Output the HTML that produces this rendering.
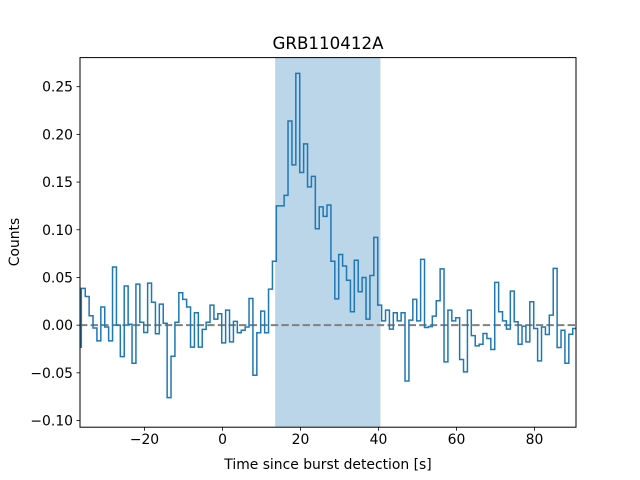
<!DOCTYPE html>
<html><head><meta charset="utf-8"><style>
html,body{margin:0;padding:0;background:#fff;}
svg{display:block;font-family:"DejaVu Sans","Liberation Sans",sans-serif;}
</style></head><body>
<svg id="chart" width="640" height="480" viewBox="0 0 640 480">
<defs><clipPath id="plotclip"><rect x="80" y="57.6" width="496" height="369.6"/></clipPath></defs>
<rect x="0" y="0" width="640" height="480" fill="#fff"/>
<g id="plot" clip-path="url(#plotclip)"></g>
<g id="axes"></g>
<text x="328" y="49" text-anchor="middle" font-size="16.7" fill="#000">GRB110412A</text>
<text x="328" y="469" text-anchor="middle" font-size="13.9" fill="#000">Time since burst detection [s]</text>
<text x="19" y="242" text-anchor="middle" font-size="13.9" fill="#000" transform="rotate(-90 19 242)">Counts</text>
</svg>
<script>
const binStart = -37.2;
const binWidth = 1.0;
const counts = [-0.023,0.0385,0.030,0.0098,-0.003,-0.0165,0.019,-0.002,-0.0165,0.061,0.0,-0.033,0.041,0.001,-0.040,0.043,0.003,-0.0077,0.044,0.024,-0.009,0.022,0.002,-0.076,-0.0326,0.003,0.034,0.027,0.019,-0.023,0.013,-0.023,-0.0045,0.003,0.021,0.0063,0.012,-0.0186,0.0158,-0.0175,0.004,-0.008,-0.0053,-0.002,0.028,-0.0525,-0.008,0.0147,-0.008,0.0378,0.067,0.125,0.125,0.136,0.214,0.168,0.264,0.160,0.190,0.145,0.156,0.101,0.124,0.114,0.126,0.067,0.0275,0.074,0.062,0.047,0.014,0.068,0.035,0.050,0.0063,0.052,0.092,0.021,0.0045,0.0158,-0.0042,0.013,0.0045,0.013,-0.0585,0.0053,0.027,0.0045,0.069,-0.0025,-0.0015,0.0095,0.0256,0.059,-0.0385,0.0158,0.0045,0.0077,-0.036,-0.049,0.0158,-0.011,-0.0217,-0.020,-0.0088,-0.014,-0.0256,0.0448,0.014,0.0045,-0.0042,0.0357,0.0035,-0.020,-0.001,-0.0175,0.0245,-0.0035,-0.0375,-0.002,-0.0098,0.0105,0.0595,-0.0234,-0.0053,-0.040,-0.0095,-0.0035];
const burstWindow = [13.5, 40.5];
const xTicks = [-20,0,20,40,60,80];
const xTickLabels = ["\u221220","0","20","40","60","80"];
const yTicks = [-0.10,-0.05,0.00,0.05,0.10,0.15,0.20,0.25];
const yTickLabels = ["\u22120.10","\u22120.05","0.00","0.05","0.10","0.15","0.20","0.25"];
const xDomain = [-36.54, 90.64];
const yDomain = [-0.107, 0.2805];

const L=80,R=576,T=57.6,B=427.2;
const sx=v=>L+(v-xDomain[0])/(xDomain[1]-xDomain[0])*(R-L);
const sy=v=>B-(v-yDomain[0])/(yDomain[1]-yDomain[0])*(B-T);
const NS="http://www.w3.org/2000/svg";
const plot=document.getElementById('plot'), axes=document.getElementById('axes');
function mk(tag,attrs,parent){const e=document.createElementNS(NS,tag);for(const k in attrs)e.setAttribute(k,attrs[k]);parent.appendChild(e);return e;}

const span=mk('rect',{x:sx(burstWindow[0]),y:T,width:sx(burstWindow[1])-sx(burstWindow[0]),height:B-T,fill:'#1f77b4','fill-opacity':0.3},plot);



const zero=mk('line',{x1:L,x2:R,y1:sy(0),y2:sy(0),stroke:'#808080','stroke-width':2,'stroke-dasharray':'7.4,3.2'},plot);



let d='';
counts.forEach((c,i)=>{const x0=sx(binStart+i*binWidth),x1=sx(binStart+(i+1)*binWidth),y=sy(c);
  d+=(i===0?'M':'L')+x0.toFixed(2)+','+y.toFixed(2)+'L'+x1.toFixed(2)+','+y.toFixed(2);});
const line=mk('path',{d:d,fill:'none',stroke:'#1f77b4','stroke-width':1.5,'stroke-linejoin':'miter'},plot);



const frame=mk('rect',{x:L,y:T,width:R-L,height:B-T,fill:'none',stroke:'#000','stroke-width':1},axes);



xTicks.forEach((t,i)=>{const x=sx(t);
  const tk=mk('line',{x1:x,x2:x,y1:B,y2:B+3.5,stroke:'#000','stroke-width':0.8},axes);
  
  
  const lb=mk('text',{x:x,y:B+17,'text-anchor':'middle','font-size':13.9,fill:'#000'},axes);
  lb.textContent=xTickLabels[i];
  
  });
yTicks.forEach((t,i)=>{const y=sy(t);
  const tk=mk('line',{x1:L-3.5,x2:L,y1:y,y2:y,stroke:'#000','stroke-width':0.8},axes);
  
  
  const lb=mk('text',{x:L-7,y:y+5,'text-anchor':'end','font-size':13.9,fill:'#000'},axes);
  lb.textContent=yTickLabels[i];
  
  });
</script>
</body></html>
